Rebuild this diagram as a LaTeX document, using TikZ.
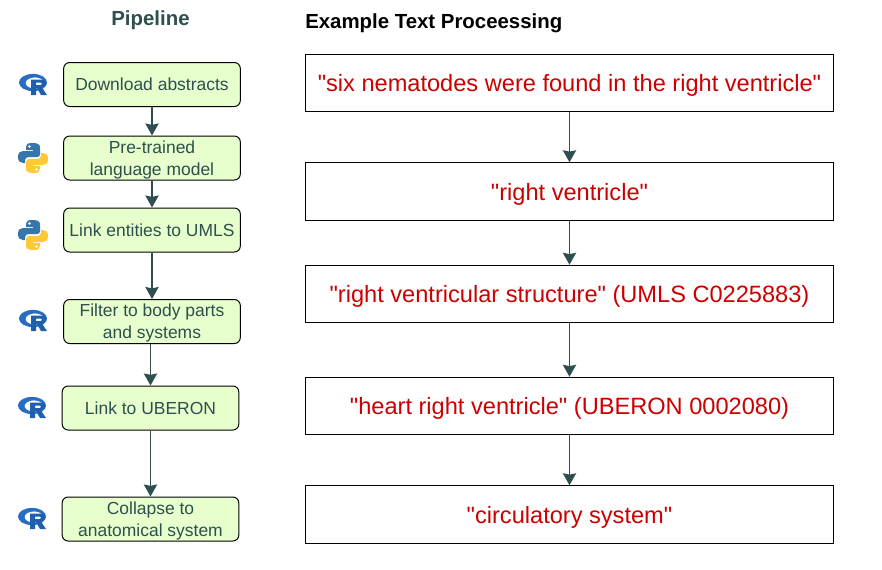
\documentclass[tikz,border=0pt]{standalone}
\usepackage{fontspec}
\setmainfont{Liberation Sans}
\newfontfamily\plainfont{Liberation Sans}
\usetikzlibrary{arrows.meta}
\definecolor{slate}{HTML}{2F4F4F}
\definecolor{leaf}{HTML}{E6FFCC}
\definecolor{redtxt}{HTML}{CC0000}
\definecolor{rblue}{HTML}{276DC3}
\definecolor{rdark}{HTML}{1F5FAE}
\definecolor{pyblue}{HTML}{3776AB}
\definecolor{pyyellow}{HTML}{FFC836}
\newcommand{\raisetop}{\rule{0pt}{12pt}}
\tikzset{
  pipe/.style={draw=black,fill=leaf,rounded corners=4.5,line width=0.75pt,text=slate,font=\fontsize{13.1}{16.5}\selectfont,align=center,inner sep=0pt,minimum width=132.5pt,minimum height=33pt},
  example/.style={draw=black,fill=white,line width=0.85pt,text=redtxt,font=\plainfont\fontsize{17.7}{20}\selectfont,inner sep=0pt,minimum width=396pt,minimum height=43pt,text height=12.9pt,text depth=0pt},
  link/.style={draw=slate,line width=1pt,-{Stealth[length=9pt,width=10pt,inset=1pt]}},
  title/.style={font=\bfseries\fontsize{15.3}{16}\selectfont},
  rlogo/.pic={
    \fill[rblue,even odd rule] (0,-1.5) ellipse [x radius=14,y radius=8.6] (2,-1) ellipse [x radius=9.5,y radius=5.6];
    \fill[rdark,even odd rule] (-2,-4.5) -- (8,-4.5) .. controls (15,-4.5) and (15,2.5) .. (9,3.5) -- (14,11) -- (8,11) -- (4,4) -- (3,4) -- (3,11) -- (-2,11) -- cycle
      (3,-1.5) -- (3,1) -- (7.5,1) .. controls (10,1) and (10,-1.5) .. (7.5,-1.5) -- cycle;
  },
  pylogo/.pic={
    \foreach \col/\ang in {pyblue/0,pyyellow/180}{
      \begin{scope}[rotate=\ang]
        \fill[\col,even odd rule] (-1,-15) .. controls (-5,-15) and (-7,-14) .. (-7,-11) -- (-7,-8) -- (0,-8) -- (0,-7) -- (-10,-7)
          .. controls (-13,-7) and (-15,-5) .. (-15,-1) .. controls (-15,3) and (-13,5) .. (-10,5) -- (-8,5) -- (-8,2)
          .. controls (-8,0) and (-6,-1) .. (-4,-1) -- (4,-1) .. controls (6,-1) and (7,-2) .. (7,-4) -- (7,-11)
          .. controls (7,-14) and (4,-15) .. (-1,-15) -- cycle
          (-3.5,-11.5) circle [radius=1.6];
      \end{scope}
    }
  }
}
\begin{document}
\begin{tikzpicture}[x=0.75pt,y=-0.75pt]
    \useasboundingbox (0,0) rectangle (882,569);
    % left column
    \node[title,text=slate] at (150.5,20) (pipeline) {Pipeline};
    \node[pipe] at (152,84.5) (download) {Download abstracts};
    \node[pipe] at (152,158) (pretrained) {\raisetop Pre-trained\\language model};
    \node[pipe] at (152,230) (entities) {Link entities to UMLS};
    \node[pipe] at (152,321.5) (filter) {\raisetop Filter to body parts\\and systems};
    \node[pipe] at (150.5,408) (uberon) {Link to UBERON};
    \node[pipe] at (150.5,519) (collapse) {\raisetop Collapse to\\anatomical system};
    \draw[link] (download) -- (pretrained);
    \draw[link] (pretrained) -- (entities);
    \draw[link] (entities) -- (filter);
    \draw[link] (filter.south -| uberon) -- (uberon);
    \draw[link] (uberon) -- (collapse);
    % icons
    \pic at (33,84) {rlogo};
    \pic at (33,158) {pylogo};
    \pic at (33,235) {pylogo};
    \pic at (33,320) {rlogo};
    \pic at (32,407) {rlogo};
    \pic at (32,518) {rlogo};
    % right column
    \node[title,anchor=west,inner sep=0pt] at (305,23) (heading) {Example Text Proceessing};
    \node[example] at (569.5,83) (ex1) {"six nematodes were found in the right ventricle"};
    \node[example] at (569.5,191.5) (ex2) {"right ventricle"};
    \node[example] at (569.5,294) (ex3) {"right ventricular structure" (UMLS C0225883)};
    \node[example] at (569.5,406) (ex4) {"heart right ventricle" (UBERON 0002080)};
    \node[example] at (569.5,514.5) (ex5) {"circulatory system"};
    \draw[link] (ex1) -- (ex2);
    \draw[link] (ex2) -- (ex3);
    \draw[link] (ex3) -- (ex4);
    \draw[link] (ex4) -- (ex5);
\end{tikzpicture}
\end{document}
